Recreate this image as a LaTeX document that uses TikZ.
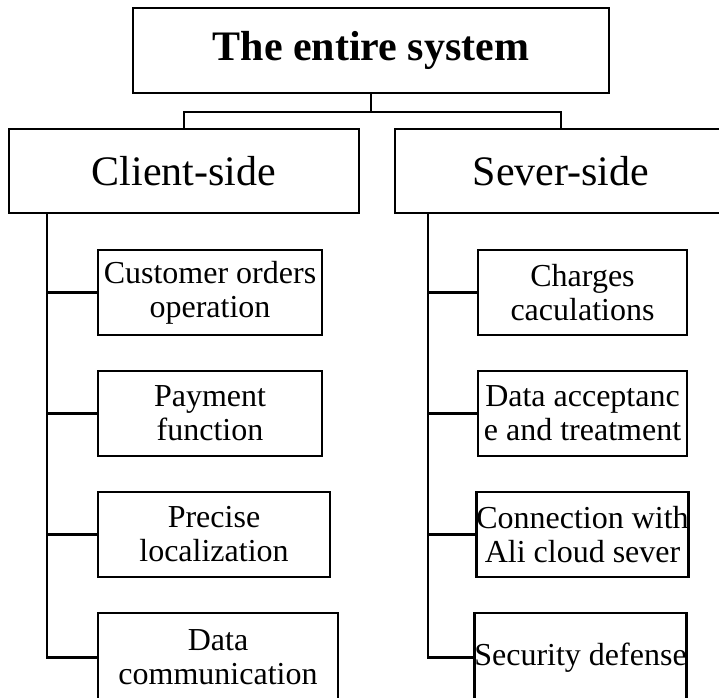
\documentclass[tikz,border=0pt]{standalone}
\usepackage{fontspec}
\setmainfont{Liberation Serif}
\begin{document}
\begin{tikzpicture}[x=1pt,y=-1pt,
  box/.style={draw, line width=2.8pt, rectangle, inner sep=0pt, align=center,
              font=\fontsize{32}{34}\selectfont},
  bigbox/.style={box, minimum height=85pt, font=\fontsize{42}{46}\selectfont},
  link/.style={line width=2.8pt}]
\useasboundingbox (0,0) rectangle (719,697);
\clip (0,0) rectangle (719,697);
\fill[white] (0,0) rectangle (719,697);
% top level
\node[bigbox, minimum width=476pt, font=\fontsize{42}{46}\selectfont\bfseries] (top) at (371,50.5) {\raisebox{-3pt}{The entire system}};
\node[bigbox, minimum width=350pt, minimum height=84pt] (client) at (184,171) {\raisebox{-5pt}{Client-side}};
\node[bigbox, minimum width=332pt, minimum height=84pt] (sever) at (561,171) {\raisebox{-5pt}{Sever-side}};
\coordinate (mid) at (371,112);
\draw[link] (top.south) -- (mid);
\draw[link] (client.north) |- (mid) -| (sever.north);
% client side
\node[box, minimum width=224pt, minimum height=85pt] (c1) at (210,292.5) {Customer orders\\operation};
\node[box, minimum width=224pt, minimum height=85pt] (c2) at (210,413.5) {Payment\\function};
\node[box, minimum width=232pt, minimum height=85pt] (c3) at (214,534.5) {Precise\\localization};
\node[box, minimum width=240pt, minimum height=89pt] (c4) at (218,657.5) {Data\\communication};
\coordinate (lt) at (47,213);
\draw[link] (lt) |- (c4.west);
\foreach \n in {c1,c2,c3}{\draw[link] (lt |- \n.west) -- (\n.west);}
% server side
\node[box, minimum width=209pt, minimum height=85pt] (s1) at (582.5,292.5) {Charges\\caculations};
\node[box, minimum width=209pt, minimum height=85pt] (s2) at (582.5,413.5) {Data acceptanc\\e and treatment};
\node[box, minimum width=209pt, minimum height=85pt] (s3) at (582.5,534.5) {Connection with\\Ali cloud sever};
\node[box, minimum width=205pt, minimum height=89pt] (s4) at (580.5,657.5) {Security defense};
\coordinate (rt) at (428,213);
\draw[link] (rt) |- (s4.west);
\foreach \n in {s1,s2,s3}{\draw[link] (rt |- \n.west) -- (\n.west);}
\end{tikzpicture}
\end{document}
